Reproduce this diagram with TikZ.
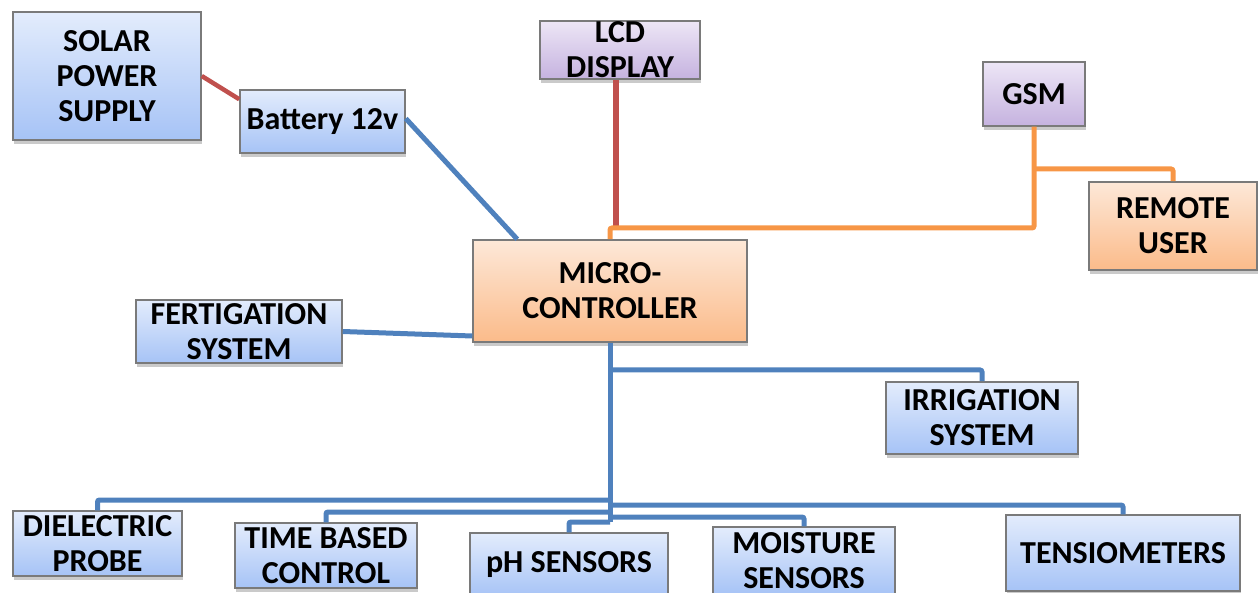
\documentclass[tikz,border=0pt]{standalone}
\usepackage{fontspec}
\setmainfont{Carlito}
\usetikzlibrary{shadows,calc}
\definecolor{bTop}{HTML}{E3ECFC}
\definecolor{bBot}{HTML}{A6C3F6}
\definecolor{pTop}{HTML}{EDE6F6}
\definecolor{pBot}{HTML}{C5B2DF}
\definecolor{oTop}{HTML}{FDE8D8}
\definecolor{oBot}{HTML}{FBBB8A}
\definecolor{edge}{HTML}{7A7A7A}
\definecolor{lblue}{HTML}{4F81BD}
\definecolor{lred}{HTML}{C0504D}
\definecolor{lorange}{HTML}{F79646}
\tikzset{
  box/.style={draw=edge, line width=1.5pt, inner sep=0pt, align=center,
    font=\bfseries\fontsize{32}{35}\selectfont,
    drop shadow={shadow xshift=1pt, shadow yshift=-4pt, opacity=0.35, fill=black!60}},
  bluebox/.style={box, top color=bTop, bottom color=bBot},
  purplebox/.style={box, top color=pTop, bottom color=pBot},
  orangebox/.style={box, top color=oTop, bottom color=oBot},
  bline/.style={draw=lblue, line width=5pt, rounded corners=2pt},
  rline/.style={draw=lred, line width=6pt},
  oline/.style={draw=lorange, line width=5pt, rounded corners=2pt}
}
\begin{document}
\begin{tikzpicture}[x=1pt,y=-1pt]
\useasboundingbox (0,0) rectangle (1258,593);
\clip (0,0) rectangle (1258,593);
% nodes
\node[bluebox, minimum width=188pt, minimum height=128pt] (solar) at (107,76) {SOLAR\\POWER\\SUPPLY};
\node[bluebox, minimum width=165pt, minimum height=63pt] (battery) at (322.5,121.5) {Battery 12v};
\node[purplebox, minimum width=160pt, minimum height=58pt] (lcd) at (620,50) {LCD\\DISPLAY};
\node[purplebox, minimum width=102pt, minimum height=64pt] (gsm) at (1034,94) {GSM};
\node[orangebox, minimum width=168pt, minimum height=88pt] (remote) at (1173,226) {REMOTE\\USER};
\node[orangebox, minimum width=274pt, minimum height=102pt] (micro) at (610,291) {MICRO-\\CONTROLLER};
\node[bluebox, minimum width=206pt, minimum height=63pt] (fert) at (239,331.5) {FERTIGATION\\SYSTEM};
\node[bluebox, minimum width=192pt, minimum height=72pt] (irrig) at (982,418) {IRRIGATION\\SYSTEM};
\node[bluebox, minimum width=169pt, minimum height=65pt] (diel) at (97.5,543.5) {DIELECTRIC\\PROBE};
\node[bluebox, minimum width=182pt, minimum height=65pt] (time) at (326,555.5) {TIME BASED\\CONTROL};
\node[bluebox, minimum width=198pt, minimum height=64pt] (ph) at (569,565) {pH SENSORS};
\node[bluebox, minimum width=182pt, minimum height=68pt] (moist) at (804,561) {MOISTURE\\SENSORS};
\node[bluebox, minimum width=234pt, minimum height=76pt] (tens) at (1123,553) {TENSIOMETERS};
% junction coordinates
\coordinate (oj) at (610,228);
\coordinate (gj) at (1034,169);
\coordinate (tI) at (610,370);
\coordinate (tD) at (610,500);
\coordinate (tT) at (610,505);
\coordinate (tTi) at (610,512);
\coordinate (tM) at (610,517);
\coordinate (tP) at (610,522);
\coordinate (lcdb) at ($(lcd.south)+(-4,0)$);
% red connectors
\draw[lred, line width=4.5pt] (solar.east) -- ($(battery.north west)+(0,10)$);
\draw[rline] (lcdb) -- (lcdb |- oj);
% orange connectors
\draw[oline] (micro.north) |- (gsm.south |- oj) -- (gsm.south);
\draw[oline] (gj) -| (remote.north);
% blue connectors
\draw[bline] ($(battery.east)+(0,-3)$) -- ($(micro.north west)+(45,0)$);
\draw[bline] (fert.east) -- ($(micro.west)+(0,45)$);
\draw[bline] (micro.south) -- (tP);
\draw[bline] (tI) -| (irrig.north);
\draw[bline] (tD) -| (diel.north);
\draw[bline] (tTi) -| (time.north);
\draw[bline] (tP) -| (ph.north);
\draw[bline] (tT) -| (tens.north);
\draw[bline] (tM) -| (moist.north);
\end{tikzpicture}
\end{document}
